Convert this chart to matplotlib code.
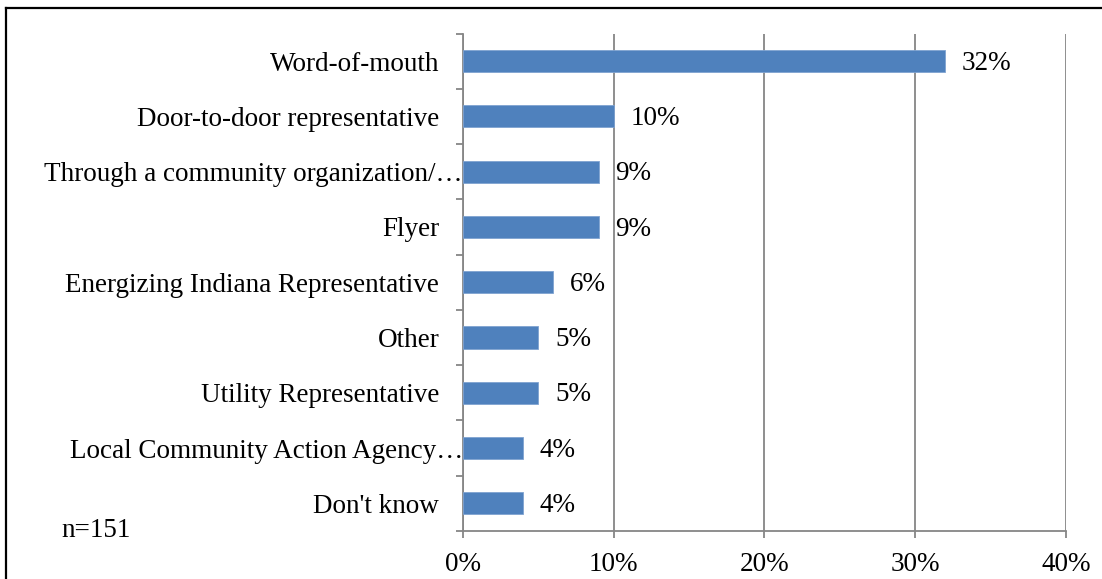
"""Horizontal bar chart: how respondents heard about the program."""

import matplotlib

matplotlib.use("Agg")
import matplotlib.pyplot as plt
from matplotlib.lines import Line2D
from matplotlib.ticker import FixedLocator, NullFormatter, PercentFormatter

categories = [
    "Word-of-mouth",
    "Door-to-door representative",
    "Through a community organization/\u2026",
    "Flyer",
    "Energizing Indiana Representative",
    "Other",
    "Utility Representative",
    "Local Community Action Agency\u2026",
    "Don't know",
]
shares = [32, 10, 9, 9, 6, 5, 5, 4, 4]
x_ticks = [0, 10, 20, 30, 40]
sample_note = "n=151"

BAR_COLOR = "#4F81BD"
GRID_COLOR = "#868686"
FONT_SIZE = 19.5

plt.rcParams["font.family"] = ["Liberation Serif", "DejaVu Serif"]
plt.rcParams["font.size"] = FONT_SIZE

fig = plt.figure(figsize=(11.02, 5.79), dpi=100)
ax = fig.add_axes([0.4201, 0.0829, 0.5472, 0.8592])

y = list(range(len(categories)))
ax.barh(y, shares, height=0.4, color=BAR_COLOR, edgecolor="#7FA3D1", linewidth=0.6, zorder=3)

for yi, v in zip(y, shares):
    ax.annotate(f"{v}%", xy=(v, yi), xytext=(12, -1.5), textcoords="offset points",
                ha="left", va="center", fontsize=FONT_SIZE)

# category names; truncated ones run right up to the axis line
for yi, name in zip(y, categories):
    dx = 0 if name.endswith("\u2026") else -17
    ax.annotate(name, xy=(0, yi), xycoords=("axes fraction", "data"), xytext=(dx, 0),
                textcoords="offset points", ha="right", va="center_baseline", fontsize=FONT_SIZE)

ax.set_xlim(0, 40)
ax.set_ylim(len(categories) - 0.5, -0.5)
ax.xaxis.set_major_locator(FixedLocator(x_ticks))
ax.xaxis.set_major_formatter(PercentFormatter(decimals=0))
ax.yaxis.set_major_locator(FixedLocator(y))
ax.yaxis.set_major_formatter(NullFormatter())
ax.yaxis.set_minor_locator(FixedLocator([i - 0.5 for i in range(len(categories) + 1)]))

ax.grid(True, axis="x", color=GRID_COLOR, linewidth=1.3, zorder=0)
ax.tick_params(axis="x", length=5, width=1.3, color=GRID_COLOR, pad=10)
ax.tick_params(axis="y", which="major", length=0)
ax.tick_params(axis="y", which="minor", length=5, width=1.3, color=GRID_COLOR)

for side in ("top", "right"):
    ax.spines[side].set_visible(False)
for side in ("left", "bottom"):
    ax.spines[side].set_color(GRID_COLOR)
    ax.spines[side].set_linewidth(1.3)

fig.text(0.0554, 0.083, sample_note, ha="left", va="center", fontsize=FONT_SIZE)

# outer frame (only its top and left edges fall inside the canvas)
fig.add_artist(Line2D([6 / 1102, 1.0], [1 - 7.5 / 579, 1 - 7.5 / 579], color="black", linewidth=1.6,
                      transform=fig.transFigure))
fig.add_artist(Line2D([6 / 1102, 6 / 1102], [0.0, 1 - 7.5 / 579], color="black", linewidth=1.6,
                      transform=fig.transFigure))

fig.savefig("out.png", dpi=100)
